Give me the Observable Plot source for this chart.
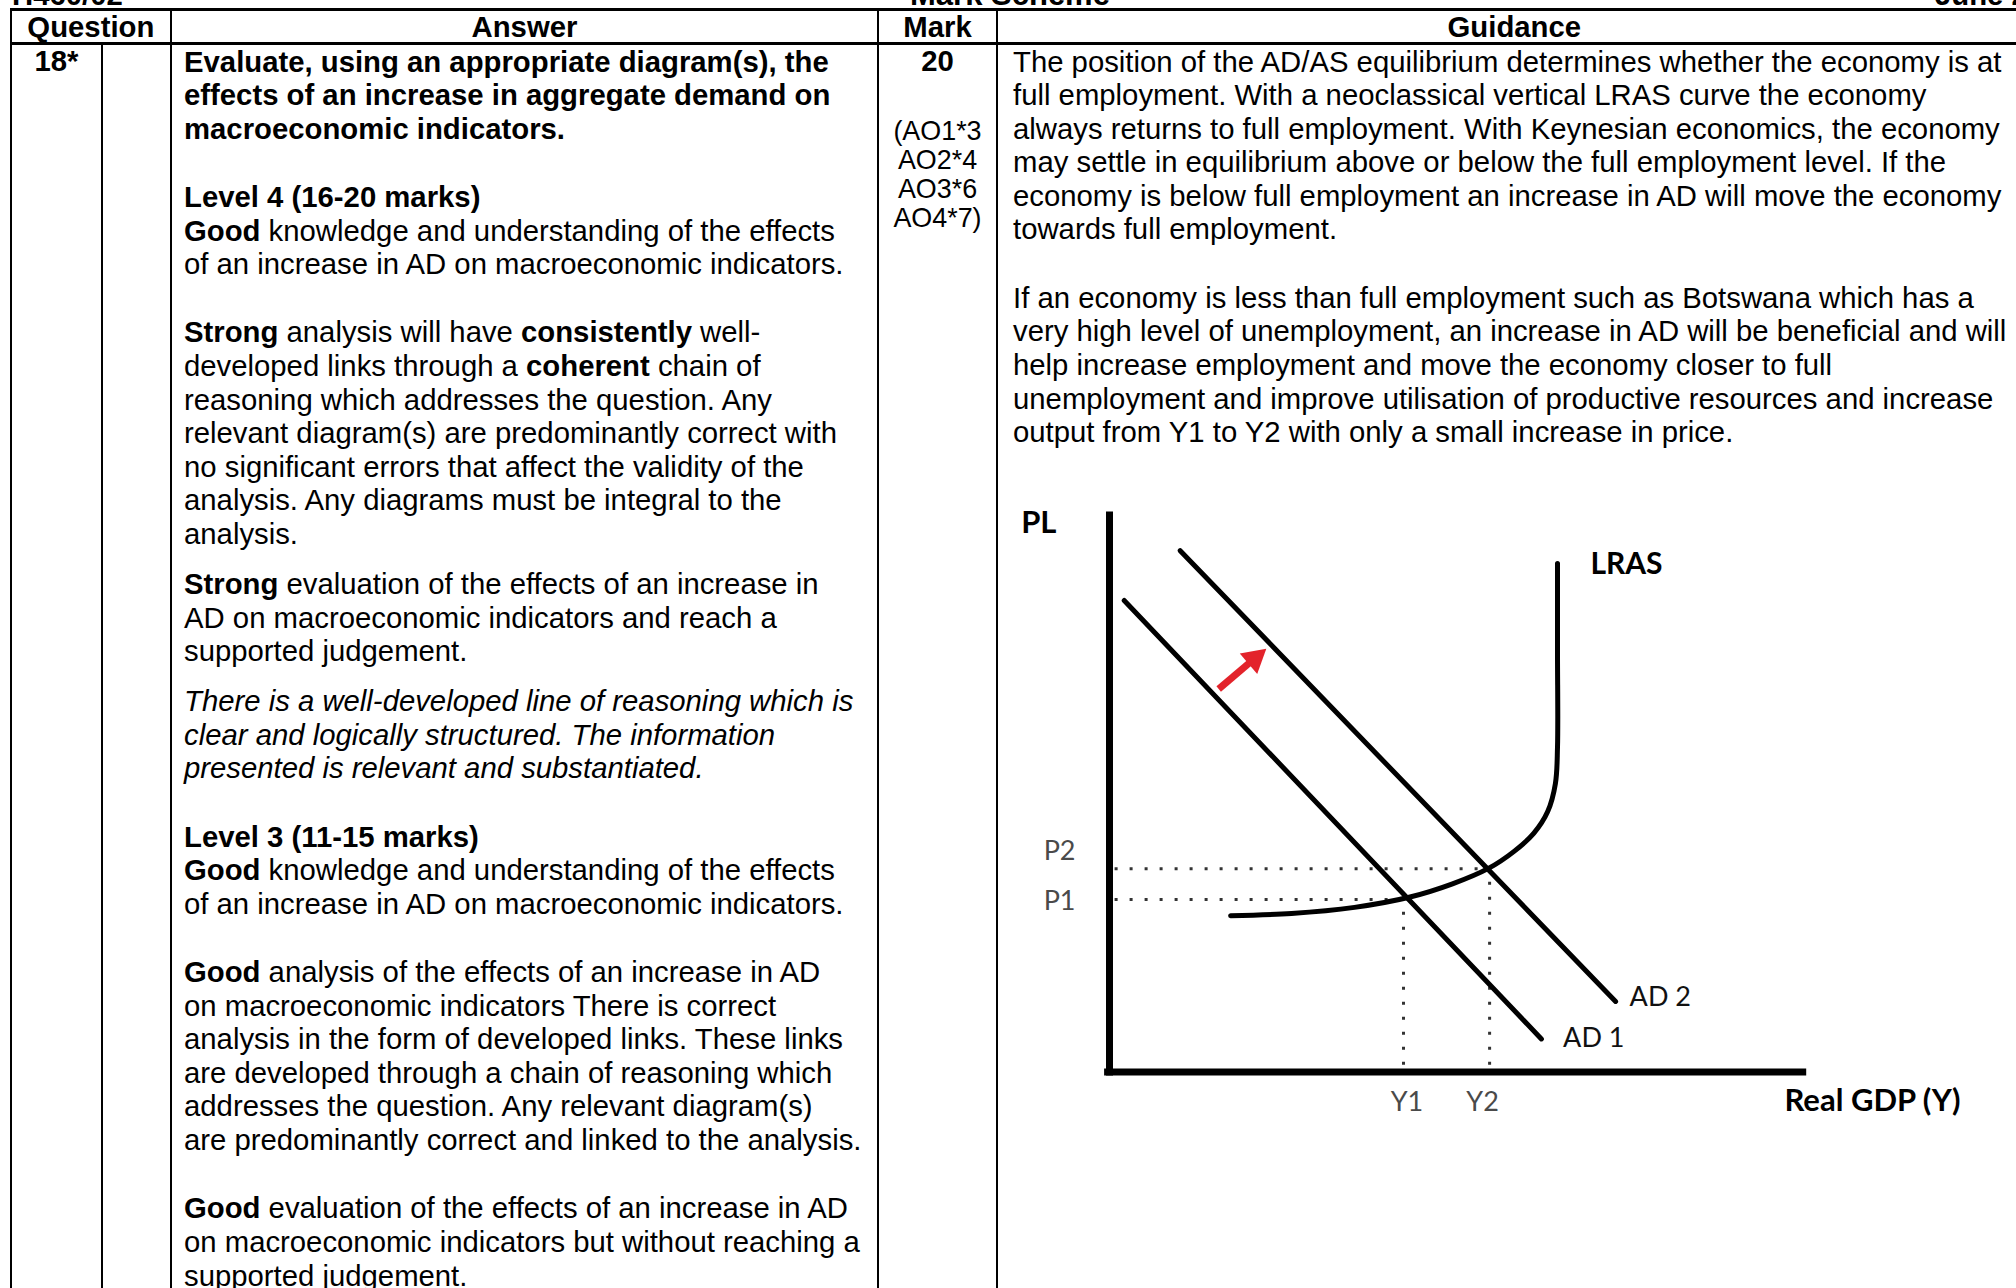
<!DOCTYPE html>
<html>
<head>
<meta charset="utf-8">
<script src="https://cdn.jsdelivr.net/npm/d3@7"></script>
<script src="https://cdn.jsdelivr.net/npm/@observablehq/plot@0.6"></script>
<style>
  html, body { margin:0; padding:0; background:#fff; }
  body { width:2016px; height:1288px; overflow:hidden; position:relative;
         font-family:"Liberation Sans", Arial, sans-serif; color:#000; }
  .abs { position:absolute; white-space:nowrap; }
  .t { font-size:29.3px; line-height:33.6px; }
  .b { font-weight:bold; }
  .i { font-style:italic; }
  .line { white-space:nowrap; }
  .gap-blank { margin-top:34.7px; }
  .gap-small { margin-top:16.4px; }
  .hl { position:absolute; background:#000; }
  .ao { font-size:26.9px; line-height:29px; text-align:center; }
</style>
</head>
<body>
<div id="page"></div>
<div id="chart" class="abs" style="left:1000px; top:480px;"></div>
<script>
// ---------- chart data (economic units) ----------
const ad1X = [2.1, 61.7];
const ad1Y = [84.2, 5.9];
const ad2X = [10.1, 72.3];
const ad2Y = [93.1, 12.6];
const lrasX = [64.0, 64.0, 64.0, 63.7, 62.6, 60.6, 57.8, 54.2, 49.0, 42.8, 35.0, 26.0, 17.3];
const lrasY = [90.8, 75.0, 58.0, 51.5, 46.5, 42.6, 39.4, 36.4, 33.6, 31.2, 29.4, 28.3, 27.9];
const priceTicks = [30.8, 36.3];
const priceLabels = ["P1", "P2"];
const outputTicks = [42.0, 54.3];
const outputLabels = ["Y1", "Y2"];
const shiftFrom = [15.6, 68.4];
const shiftTo = [22.4, 75.6];
const adLabels = ["AD 1", "AD 2"];
const adLabelX = [64.8, 74.3];
const adLabelY = [6.0, 13.4];
const asLabels = ["LRAS"];
const asLabelX = [68.7];
const asLabelY = [90.7];
const axisTitles = ["PL", "Real GDP (Y)"];
const axisTitleX = [-10.1, 109];
const axisTitleY = [97.96, -5.2];

// ---------- table text ----------
const headerLabels = ["Question", "Answer", "Mark", "Guidance"];
const questionNo = "18*";
const markTotal = "20";
const aoLines = ["(AO1*3", "AO2*4", "AO3*6", "AO4*7)"];
const answerParas = [
  {gap:"", cls:"b", lines:["Evaluate, using an appropriate diagram(s), the","effects of an increase in aggregate demand on","macroeconomic indicators."]},
  {gap:"blank", cls:"", lines:["<b>Level 4 (16-20 marks)</b>","<b>Good</b> knowledge and understanding of the effects","of an increase in AD on macroeconomic indicators."]},
  {gap:"blank", cls:"", lines:["<b>Strong</b> analysis will have <b>consistently</b> well-","developed links through a <b>coherent</b> chain of","reasoning which addresses the question. Any","relevant diagram(s) are predominantly correct with","no significant errors that affect the validity of the","analysis. Any diagrams must be integral to the","analysis."]},
  {gap:"small", cls:"", lines:["<b>Strong</b> evaluation of the effects of an increase in","AD on macroeconomic indicators and reach a","supported judgement."]},
  {gap:"small", cls:"i", lines:["There is a well-developed line of reasoning which is","clear and logically structured. The information","presented is relevant and substantiated."]},
  {gap:"blank", cls:"", lines:["<b>Level 3 (11-15 marks)</b>","<b>Good</b> knowledge and understanding of the effects","of an increase in AD on macroeconomic indicators."]},
  {gap:"blank", cls:"", lines:["<b>Good</b> analysis of the effects of an increase in AD","on macroeconomic indicators There is correct","analysis in the form of developed links. These links","are developed through a chain of reasoning which","addresses the question. Any relevant diagram(s)","are predominantly correct and linked to the analysis."]},
  {gap:"blank", cls:"", lines:["<b>Good</b> evaluation of the effects of an increase in AD","on macroeconomic indicators but without reaching a","supported judgement."]}
];
const guidanceParas = [
  {gap:"", cls:"", lines:["The position of the AD/AS equilibrium determines whether the economy is at","full employment. With a neoclassical vertical LRAS curve the economy","always returns to full employment. With Keynesian economics, the economy","may settle in equilibrium above or below the full employment level. If the","economy is below full employment an increase in AD will move the economy","towards full employment."]},
  {gap:"blank", cls:"", lines:["If an economy is less than full employment such as Botswana which has a","very high level of unemployment, an increase in AD will be beneficial and will","help increase employment and move the economy closer to full","unemployment and improve utilisation of productive resources and increase","output from Y1 to Y2 with only a small increase in price."]}
];
const runningHead = ["H460/02", "Mark Scheme", "June 2022"];

// ---------- build the table ----------
const page = document.getElementById("page");
function add(html, style, cls) {
  const d = document.createElement("div");
  d.className = "abs " + (cls || "");
  d.setAttribute("style", style);
  d.innerHTML = html;
  page.appendChild(d);
  return d;
}
// running head (mostly above the visible page, as in the source)
add(runningHead[0], "left:12px; top:-22px;", "t b");
add(runningHead[1], "left:900px; width:220px; text-align:center; top:-22px; font-size:31px;", "t b");
add(runningHead[2], "left:1935px; top:-22px;", "t b");

// rules
const H = 1288;
add("", "left:10px; top:8px; width:2030px; height:2.7px;", "hl");
add("", "left:10px; top:42px; width:2030px; height:2.7px;", "hl");
add("", "left:10px; top:8px; width:2px; height:" + (H - 8) + "px;", "hl");
add("", "left:100.8px; top:43px; width:1.8px; height:" + (H - 43) + "px;", "hl");
add("", "left:169.8px; top:8px; width:2px; height:" + (H - 8) + "px;", "hl");
add("", "left:877.3px; top:8px; width:2px; height:" + (H - 8) + "px;", "hl");
add("", "left:995.8px; top:8px; width:2px; height:" + (H - 8) + "px;", "hl");

// header
const cols = [[11, 170.7], [170.7, 878.3], [878.3, 996.7], [996.7, 2032]];
headerLabels.forEach((h, i) => {
  add(h, `left:${cols[i][0]}px; width:${cols[i][1] - cols[i][0]}px; text-align:center; top:9.5px;`, "t b");
});
add(questionNo, "left:11px; width:91px; text-align:center; top:44px;", "t b");
add(markTotal, "left:878.3px; width:118.4px; text-align:center; top:44px;", "t b");
add(aoLines.join("<br>"), "left:878.3px; width:118.4px; top:117px;", "ao");

function paras(list, left, top) {
  const box = add("", `left:${left}px; top:${top}px;`, "t");
  list.forEach(p => {
    const pd = document.createElement("div");
    pd.className = (p.gap ? "gap-" + p.gap : "") + " " + p.cls;
    p.lines.forEach(l => {
      const ld = document.createElement("div");
      ld.className = "line";
      ld.innerHTML = l;
      pd.appendChild(ld);
    });
    box.appendChild(pd);
  });
}
paras(answerParas, 184, 44.5);
paras(guidanceParas, 1013, 44.5);

// ---------- the AD/AS diagram ----------
const W = 1000, HT = 680, mL = 109, mR = 191, mT = 31.5, mB = 88.5;
const xs = Plot.scale({x: {domain: [0, 100], range: [mL, W - mR]}});
const ys = Plot.scale({y: {domain: [0, 100], range: [HT - mB, mT]}});
// filled arrow head: triangle centred a little behind the tip
const tipPx = [xs.apply(shiftTo[0]), ys.apply(shiftTo[1])];
const tailPx = [xs.apply(shiftFrom[0]), ys.apply(shiftFrom[1])];
const dxp = tipPx[0] - tailPx[0], dyp = tipPx[1] - tailPx[1];
const len = Math.hypot(dxp, dyp);
const headR = 10, back = 1.555 * headR;
const headCenter = [xs.invert(tipPx[0] - back * dxp / len), ys.invert(tipPx[1] - back * dyp / len)];
const headAngle = Math.atan2(dxp, -dyp) * 180 / Math.PI;

const lab = "Lato, 'Open Sans', sans-serif";
const chart = Plot.plot({
  width: W,
  height: HT,
  marginLeft: mL,
  marginRight: mR,
  marginTop: mT,
  marginBottom: mB,
  x: {domain: [0, 100], axis: null},
  y: {domain: [0, 100], axis: null},
  style: {background: "transparent", overflow: "visible", fontFamily: lab},
  marks: [
    // dotted guides
    Plot.ruleY(priceTicks, {y: d => d, x1: 0.8, x2: (d, i) => outputTicks[i],
      stroke: "#333", strokeWidth: 3, strokeDasharray: "3,12"}),
    Plot.ruleX(outputTicks, {x: d => d, y1: 1.2, y2: (d, i) => priceTicks[i],
      stroke: "#333", strokeWidth: 3, strokeDasharray: "3,12"}),
    // curves
    Plot.line(lrasX, {x: lrasX, y: lrasY, curve: "catmull-rom", stroke: "#000", strokeWidth: 5}),
    Plot.line(ad1X, {x: ad1X, y: ad1Y, stroke: "#000", strokeWidth: 5}),
    Plot.line(ad2X, {x: ad2X, y: ad2Y, stroke: "#000", strokeWidth: 5}),
    // shift arrow: shaft + filled head
    Plot.link([0], {x1: shiftFrom[0], y1: shiftFrom[1], x2: headCenter[0], y2: headCenter[1],
      stroke: "#e3232b", strokeWidth: 7}),
    Plot.dot([0], {x: headCenter[0], y: headCenter[1], symbol: "triangle", r: headR,
      rotate: headAngle, fill: "#e3232b", stroke: "none"}),
    // axes lines
    Plot.ruleX([0], {y1: -0.7, y2: 100, stroke: "#000", strokeWidth: 7}),
    Plot.ruleY([0], {x1: -0.7, x2: 99.6, stroke: "#000", strokeWidth: 7}),
    // price-level tick labels
    Plot.text([priceLabels[0]], {x: 0, y: [priceTicks[0]], text: d => d, textAnchor: "end",
      dx: -34, dy: 2, fontSize: 27, fill: "#4a4a4a"}),
    Plot.text([priceLabels[1]], {x: 0, y: [priceTicks[1]], text: d => d, textAnchor: "end",
      dx: -34, dy: -17, fontSize: 27, fill: "#4a4a4a"}),
    // output tick labels
    Plot.text([outputLabels[0]], {x: [outputTicks[0]], y: 0, text: d => d, textAnchor: "middle",
      dx: 3.5, dy: 30, fontSize: 27, fill: "#4a4a4a"}),
    Plot.text([outputLabels[1]], {x: [outputTicks[1]], y: 0, text: d => d, textAnchor: "middle",
      dx: -7, dy: 30, fontSize: 27, fill: "#4a4a4a"}),
    // curve labels
    Plot.text(adLabels, {x: adLabelX, y: adLabelY, text: d => d, textAnchor: "start",
      fontSize: 27, fill: "#111"}),
    Plot.text(asLabels, {x: asLabelX, y: asLabelY, text: d => d, textAnchor: "start",
      fontSize: 30, fontWeight: "bold", fill: "#000"}),
    // axis titles
    Plot.text(axisTitles, {x: axisTitleX, y: axisTitleY, text: d => d, textAnchor: "middle",
      fontSize: 31, fontWeight: "bold", fill: "#000"})
  ]
});
document.getElementById("chart").appendChild(chart);
</script>
</body>
</html>
